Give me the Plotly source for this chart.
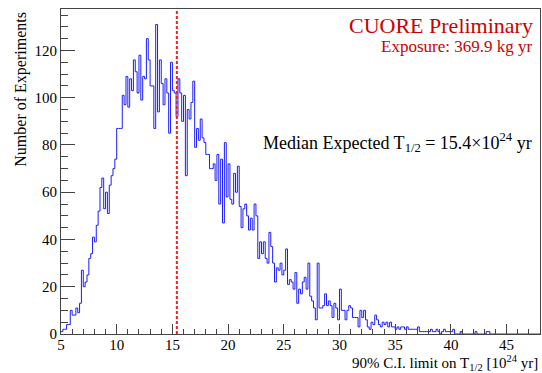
import plotly.graph_objects as go

# Histogram of 90% C.I. limits (bins of 1/6 from 5 to 48)
bin_lo = 5.0
bin_width = 1.0 / 6.0
counts = [
    1, 2, 2, 4, 4, 10, 8, 8, 11, 9, 13, 27, 20, 22, 25, 32, 34, 41, 39, 46,
    52, 62, 66, 53, 60, 51, 63, 67, 70, 74,
    87, 87, 87, 101, 97, 109, 96, 108, 103, 116,
    111, 102, 118, 99, 109, 108, 125, 116, 105, 105,
    87, 131, 94, 116, 106, 97, 108, 102, 85, 115,
    103, 102, 92, 108,
    102, 90, 101, 67, 95, 91, 98, 107, 79, 87,
    82, 91, 83, 81, 76, 76, 70, 70, 72, 65,
    76, 55, 74, 47, 81, 58, 72, 57, 55, 68,
    60, 71, 54, 45, 53, 55,
    50, 44, 49, 44, 55, 50, 32, 39, 34, 39,
    32, 30, 43, 37, 30, 22, 28, 27, 30, 25,
    27, 36, 21, 23, 22, 19, 26, 13, 19, 17,
    22, 24, 19, 30, 16, 14, 11, 6, 30, 11,
    11, 12, 17, 12, 14, 12, 7, 13, 11, 6,
    19, 10, 10, 6, 10, 12, 11, 7, 7, 7,
    3, 10, 7, 10, 6, 3, 2, 5, 4, 8,
    6, 4, 3, 5, 4, 5, 3, 5, 3, 3,
    2, 3, 2, 3, 3, 2, 3, 2, 2, 2,
    2, 2, 3, 1, 1, 1, 1, 1, 1, 2,
    1, 1, 2, 1, 0, 1, 2, 1, 1, 1,
    1, 2, 0, 0, 0, 1, 0, 0, 0, 0,
    0, 0, 0, 1, 0, 0, 0, 0, 0, 1,
    1, 0, 0, 0, 0, 0, 0, 0, 0, 0,
    0, 0, 0, 0, 0, 0, 0, 0, 0, 0,
    0, 0, 0, 0, 0, 0, 0, 0,
]
median_limit = 15.4
x_range = [5, 48]
y_range = [0, 1.05 * max(counts)]
x_ticks = [5, 10, 15, 20, 25, 30, 35, 40, 45]
y_ticks = [0, 20, 40, 60, 80, 100, 120]

edges = [bin_lo + i * bin_width for i in range(len(counts) + 1)]
yvals = counts + [counts[-1]]

FONT = "Liberation Serif"
fig = go.Figure()
fig.add_trace(go.Scatter(x=edges, y=yvals, mode="lines", line_shape="hv",
                         line=dict(color="#1c1cff", width=1), showlegend=False,
                         hoverinfo="skip"))

fig.add_shape(type="line", xref="x", yref="paper", x0=median_limit, x1=median_limit,
              y0=0, y1=1, line=dict(color="#ff1a1a", width=2, dash="3px,2px"))

axis_common = dict(showline=True, linecolor="#444444", linewidth=1, mirror=True,
                   ticks="inside", tickcolor="#444444", showgrid=False, zeroline=False,
                   tickfont=dict(family=FONT, size=15, color="black"))

fig.update_xaxes(range=x_range, tickvals=x_ticks, ticklen=10, ticklabelstandoff=-3,
                 minor=dict(dtick=1, ticklen=5, ticks="inside", tickcolor="#444444"),
                 **axis_common)
fig.update_yaxes(range=y_range, tickvals=y_ticks, ticklen=14,
                 minor=dict(dtick=5, ticklen=7, ticks="inside", tickcolor="#444444"),
                 **axis_common)

annotations = [
    dict(text="CUORE Preliminary", x=0.99, y=0.949, xanchor="right", yanchor="middle",
         font=dict(family=FONT, size=22, color="#cc0000")),
    dict(text="Exposure: 369.9 kg yr", x=0.988, y=0.886, xanchor="right", yanchor="middle",
         font=dict(family=FONT, size=17, color="#cc0000")),
    dict(text="Median Expected T<sub>1/2</sub> = 15.4×10<sup>24</sup> yr", x=0.418, y=0.588,
         xanchor="left", yanchor="middle", font=dict(family=FONT, size=18, color="black")),
    dict(text="Number of Experiments", x=-0.083, y=0.997, xanchor="center", yanchor="top",
         textangle=-90, font=dict(family=FONT, size=16, color="black")),
    dict(text="90% C.I. limit on T<sub>1/2</sub> [10<sup>24</sup> yr]", x=1.0, y=-0.126,
         xanchor="right", yanchor="bottom", font=dict(family=FONT, size=15, color="black")),
]
for a in annotations:
    a.update(xref="paper", yref="paper", showarrow=False)
fig.update_layout(width=542, height=373, margin=dict(l=61, r=2, t=9, b=39),
                  paper_bgcolor="white", plot_bgcolor="white", annotations=annotations)

fig.write_html("out.html")
